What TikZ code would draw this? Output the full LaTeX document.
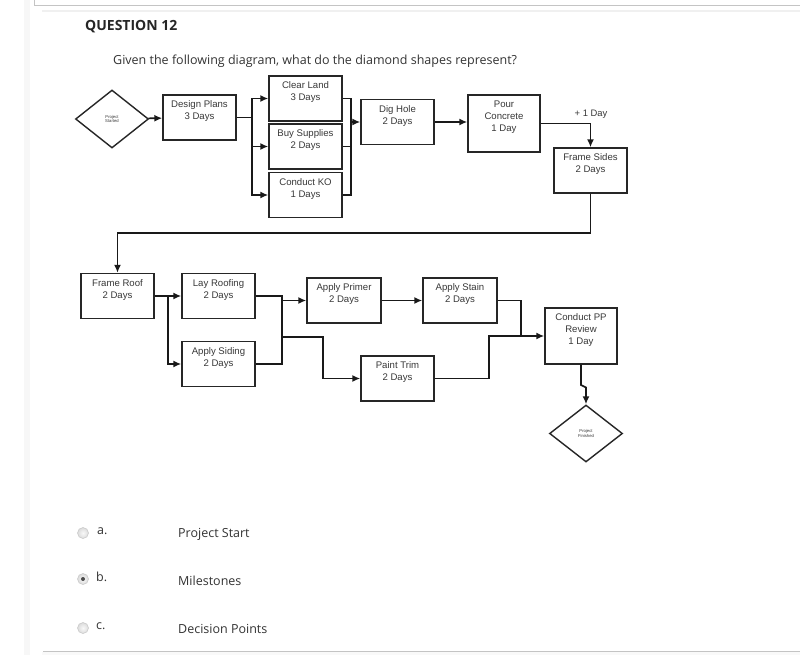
\documentclass[tikz,border=0pt]{standalone}
\usepackage{fontspec}
\setmainfont{Open Sans}
\newfontfamily\diafont{Liberation Sans}
\usetikzlibrary{shapes.geometric,arrows.meta}

\definecolor{pagetext}{HTML}{333333}
\definecolor{boxtext}{HTML}{383838}
\definecolor{rulegray}{HTML}{C4C4C4}

\tikzset{
  task/.style={rectangle, draw=black!85, line width=1.4pt, minimum width=73, minimum height=45, inner sep=0pt},
  tasktext/.style={anchor=north, align=center, inner sep=0pt, yshift=-6.5pt, text=boxtext,
    font=\diafont\fontsize{9.6}{11.8}\selectfont},
  milestone/.style={diamond, draw=black!85, line width=1.4pt, minimum width=73, minimum height=58,
    inner sep=0pt, aspect=1.26, align=center, text=boxtext, font=\diafont\fontsize{4.2}{5}\selectfont},
  link/.style={draw=black!90, line width=1.7pt},
  flow/.style={link, -{Latex[length=8pt,width=7pt]}},
  radio/.style={circle, draw=gray!45, line width=0.5pt, inner color=gray!5, outer color=gray!28, minimum size=11, inner sep=0pt},
  answer/.style={anchor=base west, inner sep=0pt, text=pagetext, font=\fontsize{12.5}{15}\selectfont}
}

\begin{document}
\begin{tikzpicture}[x=1pt, y=-1pt]
	\useasboundingbox (0,0) rectangle (800,655);
	\fill[white] (0,0) rectangle (800,655);
	% page frame
	\fill[gray!6] (24,0) rectangle (30,655);
	\draw[rulegray, line width=1pt] (34,0) -- (34,6) -- (800,6);
	\draw[gray!12, line width=2.5pt] (42,11) -- (800,11);
	\fill[gray!5] (42,652) rectangle (800,655);
	\draw[rulegray, line width=1pt] (43,651) -- (800,651);

	\node (q) at (85,31) [anchor=base west, inner sep=0pt, font=\bfseries\fontsize{14}{17}\selectfont, text=black!85] {QUESTION 12};
	\node (ask) at (113,65) [anchor=base west, inner sep=0pt, text=pagetext, font=\fontsize{12.5}{15}\selectfont]
		{Given the following diagram, what do the diamond shapes represent?};

	% first row
	\node (PS) at (112,119)		[milestone]	{Project\\Started};
	\node (DP) at (199.5,117.5)	[task, label={[tasktext]north:Design Plans\\3 Days}]	{};
	\node (CL) at (305.5,98.5)	[task, label={[tasktext]north:Clear Land\\3 Days}]	{};
	\node (BS) at (305.5,146.5)	[task, label={[tasktext]north:Buy Supplies\\2 Days}]	{};
	\node (KO) at (305.5,195)	[task, label={[tasktext]north:Conduct KO\\1 Days}]	{};
	\node (DH) at (397.5,122)	[task, label={[tasktext]north:Dig Hole\\2 Days}]	{};
	\node (PC) at (504,123.5)	[task, minimum width=72, minimum height=57, label={[tasktext]north:Pour\\Concrete\\1 Day}]	{};
	\node (FS) at (590.5,170.5)	[task, label={[tasktext]north:Frame Sides\\2 Days}]	{};
	\node (lag) at (591,114)	[inner sep=0pt, text=boxtext, font=\diafont\fontsize{9.4}{11}\selectfont]	{+ 1 Day};

	% second row
	\node (FR) at (117.5,296)	[task, label={[tasktext]north:Frame Roof\\2 Days}]	{};
	\node (LR) at (218.5,296)	[task, label={[tasktext]north:Lay Roofing\\2 Days}]	{};
	\node (AS) at (218.5,364)	[task, label={[tasktext]north:Apply Siding\\2 Days}]	{};
	\node (AP) at (344,300.5)	[task, minimum width=74, label={[tasktext]north:Apply Primer\\2 Days}]	{};
	\node (ST) at (460,300.5)	[task, minimum width=74, label={[tasktext]north:Apply Stain\\2 Days}]	{};
	\node (PT) at (397.5,378.5)	[task, label={[tasktext]north:Paint Trim\\2 Days}]	{};
	\node (PP) at (581,336)		[task, minimum width=72, minimum height=56, label={[tasktext]north:Conduct PP\\Review\\1 Day}]	{};
	\node (PF) at (586,433.5)	[milestone, minimum height=57]	{Project\\Finished};

	% junctions
	\coordinate (j1) at (252,117.5);
	\coordinate (j2) at (351,122);
	\coordinate (j3) at (117.5,233);
	\coordinate (j4) at (168,296);
	\coordinate (j5) at (282,300.5);
	\coordinate (j6) at (282,337);
	\coordinate (k6) at (323,337);
	\coordinate (j7) at (521,336);
	\coordinate (k7) at (489,336);
	\coordinate (j8) at (581,385);

	\draw[flow] (PS) -- (DP);
	\draw[link] (DP) -- (j1);
	\draw[flow] (j1) |- (CL);
	\draw[flow] (j1) |- (BS);
	\draw[flow] (j1) |- (KO);
	\draw[link] (CL) -| (j2);
	\draw[link] (BS) -| (j2);
	\draw[link] (KO) -| (j2);
	\draw[flow] (j2) -- (DH);
	\draw[flow] (DH.east) -- (DH.east -| PC.west);
	\draw[flow] (PC.east) -| (FS);
	\draw[flow] (FS) |- (j3) -- (FR);

	\draw[link] (FR) -- (j4);
	\draw[flow] (j4) -- (LR);
	\draw[flow] (j4) |- (AS);
	\draw[link] (LR) -| (j5);
	\draw[link] (AS) -| (j5);
	\draw[flow] (j5) -- (AP);
	\draw[flow] (j6) -- (k6) |- (PT);
	\draw[flow] (AP) -- (ST);
	\draw[link] (ST) -| (j7);
	\draw[link] (PT) -| (k7) -- (j7);
	\draw[flow] (j7) -- (PP);
	\draw[flow] (PP) -- (j8) -- ++(5,2.5) -- (PF);

	% answers
	\node (ra) at (83,533) [radio] {};
	\node (rb) at (83,579) [radio] {};
	\node (rbdot) at (rb) [circle, fill=black!70, minimum size=4, inner sep=0pt] {};
	\node (rc) at (83,628) [radio] {};
	\node (la) at (97,534) [answer] {a.};
	\node (lb) at (96,581) [answer] {b.};
	\node (lc) at (96,629) [answer] {c.};
	\node (ta) at (178,537) [answer] {Project Start};
	\node (tb) at (178,585) [answer] {Milestones};
	\node (tc) at (178,633) [answer] {Decision Points};
\end{tikzpicture}
\end{document}
